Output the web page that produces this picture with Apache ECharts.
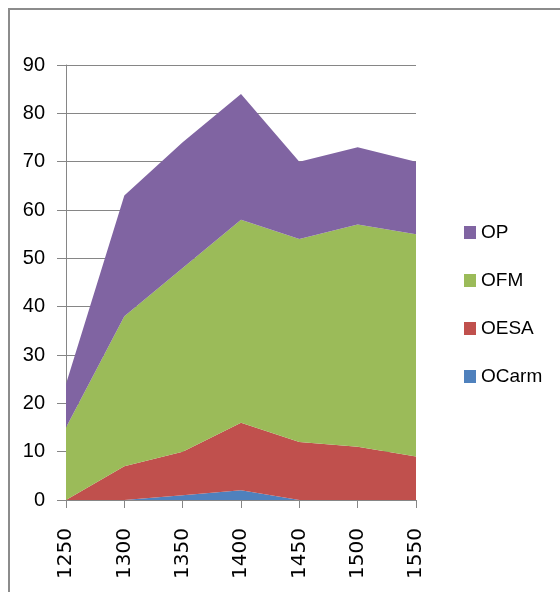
<!DOCTYPE html>
<html>
<head>
<meta charset="utf-8">
<script src="https://cdn.jsdelivr.net/npm/echarts@6/dist/echarts.min.js"></script>
<style>
  html, body { margin: 0; padding: 0; background: #fff; }
  #main { width: 560px; height: 592px; }
</style>
</head>
<body>
<div id="main"></div>
<script>
var years = ['1250', '1300', '1350', '1400', '1450', '1500', '1550'];
var ocarm = [0, 0, 1, 2, 0, 0, 0];
var oesa = [0, 7, 9, 14, 12, 11, 9];
var ofm = [15, 31, 38, 42, 42, 46, 46];
var op = [9, 25, 26, 26, 16, 16, 15];
var legendOrder = ['OP', 'OFM', 'OESA', 'OCarm'];

var font = '"Liberation Sans", sans-serif';
var chart = echarts.init(document.getElementById('main'));

function areaSeries(name, data, color) {
  return {
    name: name,
    type: 'line',
    stack: 'total',
    data: data,
    symbol: 'none',
    lineStyle: { width: 0 },
    itemStyle: { color: color },
    areaStyle: { color: color, opacity: 1 }
  };
}

var option = {
  animation: false,
  backgroundColor: '#fff',
  graphic: [{
    type: 'rect',
    shape: { x: 9, y: 9, width: 580, height: 620 },
    style: { fill: 'none', stroke: '#8c8c8c', lineWidth: 2 }
  }],
  grid: { left: 66, right: 144, top: 65, bottom: 92 },
  legend: {
    data: legendOrder,
    orient: 'vertical',
    left: 459,
    top: 218,
    itemGap: 29,
    itemWidth: 12,
    itemHeight: 13,
    icon: 'rect',
    textStyle: { fontFamily: font, fontSize: 19, color: '#000' }
  },
  xAxis: {
    type: 'category',
    data: years,
    boundaryGap: false,
    axisLine: { lineStyle: { color: '#868686' } },
    axisTick: { show: true, length: 8, lineStyle: { color: '#868686' } },
    axisLabel: { rotate: 90, margin: 28, fontFamily: '"DejaVu Sans", sans-serif', fontSize: 20, color: '#000' }
  },
  yAxis: {
    type: 'value',
    min: 0,
    max: 90,
    interval: 10,
    axisLine: { show: true, lineStyle: { color: '#868686' } },
    axisTick: { show: true, length: 9, lineStyle: { color: '#868686' } },
    splitLine: { lineStyle: { color: '#868686', width: 1 } },
    axisLabel: { margin: 21, fontFamily: font, fontSize: 20, color: '#000' }
  },
  series: [
    areaSeries('OCarm', ocarm, '#4F81BD'),
    areaSeries('OESA', oesa, '#C0504D'),
    areaSeries('OFM', ofm, '#9BBB59'),
    areaSeries('OP', op, '#8064A2')
  ]
};
chart.setOption(option);
</script>
</body>
</html>
